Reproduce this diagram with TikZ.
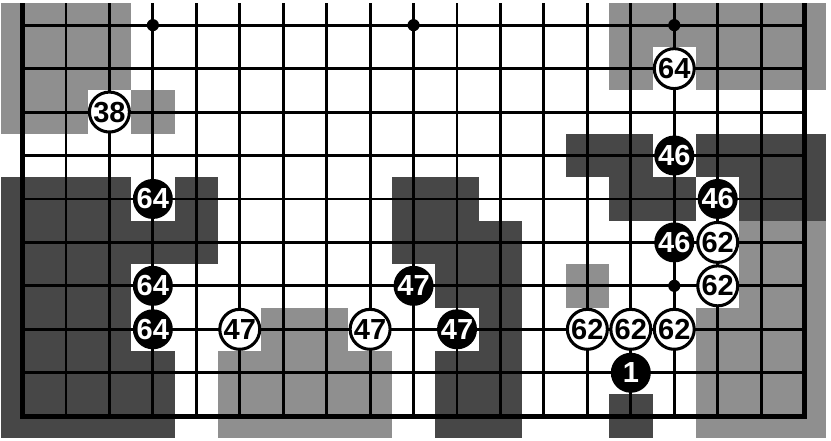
\documentclass[tikz,border=0pt]{standalone}
\usepackage{fontspec}
\newfontfamily\stonefamily{Liberation Sans}
\newcommand\stonefnt{\stonefamily\bfseries\fontsize{19}{19}\selectfont}
\begin{document}
\begin{tikzpicture}[x=1cm,y=1cm,
  lightcell/.style={fill=black!44},
  darkcell/.style={fill=black!72},
  gridline/.style={line width=1.9pt},
  edgeline/.style={line width=3.4pt, line join=miter},
  stonew/.style={circle, draw=black, line width=2pt, fill=white, minimum size=0.92cm, inner sep=0pt, font=\stonefnt},
  stoneb/.style={circle, fill=black, text=white, minimum size=0.92cm, inner sep=0pt, font=\stonefnt},
  hoshi/.style={circle, fill=black, minimum size=0.28cm, inner sep=0pt}]
\useasboundingbox (-0.518,-0.57) rectangle (18.607,9.579);
% light (white territory) cells
\foreach \c/\r in {1/10,2/10,3/10,1/9,2/9,3/9,1/8,2/8,4/8,
  6/2,6/1,7/3,7/2,7/1,8/3,8/2,8/1,9/2,9/1,
  15/10,16/10,17/10,18/10,19/10,15/9,17/9,18/9,19/9,
  14/4,18/5,19/5,18/4,19/4,17/3,18/3,19/3,17/2,18/2,19/2,17/1,18/1,19/1}
  \fill[lightcell] (\c-1.5,\r-1.5) rectangle (\c-0.5,\r-0.5);
% dark (black territory) cells
\foreach \c/\r in {1/6,2/6,3/6,5/6,1/5,2/5,3/5,4/5,5/5,1/4,2/4,3/4,1/3,2/3,3/3,1/2,2/2,3/2,4/2,1/1,2/1,3/1,4/1,
  10/6,11/6,10/5,11/5,12/5,11/4,12/4,12/3,11/2,12/2,11/1,12/1,
  14/7,15/7,17/7,18/7,19/7,15/6,16/6,18/6,19/6,15/1}
  \fill[darkcell] (\c-1.5,\r-1.5) rectangle (\c-0.5,\r-0.5);
% grid
\foreach \x in {1,...,17} \draw[gridline] (\x,0) -- (\x,9.5);
\foreach \y in {1,...,9} \draw[gridline] (0,\y) -- (18,\y);
\draw[edgeline] (0,9.5) -- (0,0) -- (18,0) -- (18,9.5);
% star points
\node[hoshi] (h1) at (3,9) {};
\node[hoshi] (h2) at (9,9) {};
\node[hoshi] (h3) at (15,9) {};
\node[hoshi] (h4) at (15,3) {};
% white stones
\node[stonew] (w38) at (2,7) {38};
\node[stonew] (w47a) at (5,2) {47};
\node[stonew] (w47b) at (8,2) {47};
\node[stonew] (w62a) at (13,2) {62};
\node[stonew] (w62b) at (14,2) {62};
\node[stonew] (w62c) at (15,2) {62};
\node[stonew] (w64) at (15,8) {64};
\node[stonew] (w62d) at (16,4) {62};
\node[stonew] (w62e) at (16,3) {62};
% black stones
\node[stoneb] (b64a) at (3,5) {64};
\node[stoneb] (b64b) at (3,3) {64};
\node[stoneb] (b64c) at (3,2) {64};
\node[stoneb] (b47a) at (9,3) {47};
\node[stoneb] (b47b) at (10,2) {47};
\node[stoneb] (b1) at (14,1) {1};
\node[stoneb] (b46a) at (15,6) {46};
\node[stoneb] (b46b) at (16,5) {46};
\node[stoneb] (b46c) at (15,4) {46};
\end{tikzpicture}
\end{document}
